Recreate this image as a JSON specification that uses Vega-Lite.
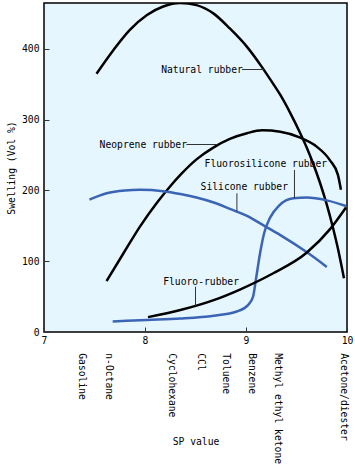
{
  "$schema": "https://vega.github.io/schema/vega-lite/v6.json",
  "width": 303,
  "height": 329,
  "autosize": {"type": "none"},
  "padding": {"left": 44, "top": 3, "right": 8, "bottom": 142},
  "background": "white",
  "config": {
    "font": "DejaVu Sans Mono",
    "view": {"fill": "#E6F6FF", "stroke": "black", "strokeWidth": 1.5},
    "axis": {"labelFont": "DejaVu Sans Mono", "titleFont": "DejaVu Sans Mono", "labelFontSize": 9.7, "titleFontSize": 9.7, "titleFontWeight": "normal", "labelColor": "black", "titleColor": "black", "domain": false, "grid": false, "tickColor": "#333", "tickSize": -5, "tickWidth": 1, "labelOverlap": false}
  },
  "datasets": {
    "curves": [
      {"rubber": "Natural rubber", "sp": 7.52, "swell": 365},
      {"rubber": "Natural rubber", "sp": 7.69, "swell": 399},
      {"rubber": "Natural rubber", "sp": 7.85, "swell": 427},
      {"rubber": "Natural rubber", "sp": 8.02, "swell": 448},
      {"rubber": "Natural rubber", "sp": 8.18, "swell": 460},
      {"rubber": "Natural rubber", "sp": 8.35, "swell": 465},
      {"rubber": "Natural rubber", "sp": 8.51, "swell": 462},
      {"rubber": "Natural rubber", "sp": 8.68, "swell": 450},
      {"rubber": "Natural rubber", "sp": 8.84, "swell": 429},
      {"rubber": "Natural rubber", "sp": 9.01, "swell": 403},
      {"rubber": "Natural rubber", "sp": 9.16, "swell": 374},
      {"rubber": "Natural rubber", "sp": 9.24, "swell": 357},
      {"rubber": "Natural rubber", "sp": 9.34, "swell": 335},
      {"rubber": "Natural rubber", "sp": 9.44, "swell": 309},
      {"rubber": "Natural rubber", "sp": 9.53, "swell": 283},
      {"rubber": "Natural rubber", "sp": 9.60, "swell": 261},
      {"rubber": "Natural rubber", "sp": 9.67, "swell": 236},
      {"rubber": "Natural rubber", "sp": 9.73, "swell": 212},
      {"rubber": "Natural rubber", "sp": 9.80, "swell": 180},
      {"rubber": "Natural rubber", "sp": 9.86, "swell": 148},
      {"rubber": "Natural rubber", "sp": 9.91, "swell": 118},
      {"rubber": "Natural rubber", "sp": 9.97, "swell": 76},
      {"rubber": "Neoprene rubber", "sp": 7.62, "swell": 72},
      {"rubber": "Neoprene rubber", "sp": 7.79, "swell": 112},
      {"rubber": "Neoprene rubber", "sp": 7.95, "swell": 149},
      {"rubber": "Neoprene rubber", "sp": 8.12, "swell": 183},
      {"rubber": "Neoprene rubber", "sp": 8.25, "swell": 206},
      {"rubber": "Neoprene rubber", "sp": 8.35, "swell": 222},
      {"rubber": "Neoprene rubber", "sp": 8.51, "swell": 244},
      {"rubber": "Neoprene rubber", "sp": 8.68, "swell": 261},
      {"rubber": "Neoprene rubber", "sp": 8.84, "swell": 273},
      {"rubber": "Neoprene rubber", "sp": 9.01, "swell": 281},
      {"rubber": "Neoprene rubber", "sp": 9.16, "swell": 285},
      {"rubber": "Neoprene rubber", "sp": 9.34, "swell": 283},
      {"rubber": "Neoprene rubber", "sp": 9.53, "swell": 275},
      {"rubber": "Neoprene rubber", "sp": 9.70, "swell": 262},
      {"rubber": "Neoprene rubber", "sp": 9.83, "swell": 243},
      {"rubber": "Neoprene rubber", "sp": 9.91, "swell": 222},
      {"rubber": "Neoprene rubber", "sp": 9.94, "swell": 201},
      {"rubber": "Silicone rubber", "sp": 7.45, "swell": 187},
      {"rubber": "Silicone rubber", "sp": 7.62, "swell": 196},
      {"rubber": "Silicone rubber", "sp": 7.80, "swell": 200},
      {"rubber": "Silicone rubber", "sp": 7.95, "swell": 201},
      {"rubber": "Silicone rubber", "sp": 8.18, "swell": 199},
      {"rubber": "Silicone rubber", "sp": 8.35, "swell": 195},
      {"rubber": "Silicone rubber", "sp": 8.51, "swell": 190},
      {"rubber": "Silicone rubber", "sp": 8.68, "swell": 183},
      {"rubber": "Silicone rubber", "sp": 8.84, "swell": 174},
      {"rubber": "Silicone rubber", "sp": 9.01, "swell": 164},
      {"rubber": "Silicone rubber", "sp": 9.17, "swell": 151},
      {"rubber": "Silicone rubber", "sp": 9.34, "swell": 137},
      {"rubber": "Silicone rubber", "sp": 9.60, "swell": 113},
      {"rubber": "Silicone rubber", "sp": 9.80, "swell": 92},
      {"rubber": "Fluorosilicone rubber", "sp": 7.68, "swell": 15},
      {"rubber": "Fluorosilicone rubber", "sp": 8.02, "swell": 17},
      {"rubber": "Fluorosilicone rubber", "sp": 8.35, "swell": 19},
      {"rubber": "Fluorosilicone rubber", "sp": 8.68, "swell": 23},
      {"rubber": "Fluorosilicone rubber", "sp": 8.91, "swell": 29},
      {"rubber": "Fluorosilicone rubber", "sp": 9.02, "swell": 38},
      {"rubber": "Fluorosilicone rubber", "sp": 9.07, "swell": 50},
      {"rubber": "Fluorosilicone rubber", "sp": 9.10, "swell": 76},
      {"rubber": "Fluorosilicone rubber", "sp": 9.14, "swell": 112},
      {"rubber": "Fluorosilicone rubber", "sp": 9.18, "swell": 140},
      {"rubber": "Fluorosilicone rubber", "sp": 9.24, "swell": 162},
      {"rubber": "Fluorosilicone rubber", "sp": 9.33, "swell": 179},
      {"rubber": "Fluorosilicone rubber", "sp": 9.47, "swell": 189},
      {"rubber": "Fluorosilicone rubber", "sp": 9.60, "swell": 190},
      {"rubber": "Fluorosilicone rubber", "sp": 9.80, "swell": 186},
      {"rubber": "Fluorosilicone rubber", "sp": 9.99, "swell": 178},
      {"rubber": "Fluoro-rubber", "sp": 8.03, "swell": 21},
      {"rubber": "Fluoro-rubber", "sp": 8.35, "swell": 31},
      {"rubber": "Fluoro-rubber", "sp": 8.68, "swell": 45},
      {"rubber": "Fluoro-rubber", "sp": 8.94, "swell": 60},
      {"rubber": "Fluoro-rubber", "sp": 9.27, "swell": 83},
      {"rubber": "Fluoro-rubber", "sp": 9.60, "swell": 112},
      {"rubber": "Fluoro-rubber", "sp": 9.83, "swell": 145},
      {"rubber": "Fluoro-rubber", "sp": 9.99, "swell": 176}
    ],
    "labels": [
      {"label": "Natural rubber", "sp": 8.16, "swell": 371, "lx": 8.96, "lx2": 9.18, "ly": 371, "ly2": 371},
      {"label": "Neoprene rubber", "sp": 7.55, "swell": 265, "lx": 8.41, "lx2": 8.71, "ly": 265, "ly2": 265},
      {"label": "Fluorosilicone rubber", "sp": 8.59, "swell": 238, "lx": 9.48, "lx2": 9.48, "ly": 229, "ly2": 189},
      {"label": "Silicone rubber", "sp": 8.55, "swell": 205, "lx": 8.91, "lx2": 8.91, "ly": 196, "ly2": 171},
      {"label": "Fluoro-rubber", "sp": 8.18, "swell": 71, "lx": 8.50, "lx2": 8.50, "ly": 64, "ly2": 37}
    ],
    "solvents": [
      {"solvent": "Gasoline", "sp": 7.38},
      {"solvent": "n-Octane", "sp": 7.64},
      {"solvent": "Cyclohexane", "sp": 8.27},
      {"solvent": "CCl", "sp": 8.55},
      {"solvent": "Toluene", "sp": 8.8},
      {"solvent": "Benzene", "sp": 9.06},
      {"solvent": "Methyl ethyl ketone", "sp": 9.32},
      {"solvent": "Acetone/diester", "sp": 9.97}
    ]
  },
  "layer": [
    {
      "data": {"name": "curves"},
      "mark": {"type": "line", "interpolate": "monotone", "strokeWidth": 2.5, "clip": true},
      "encoding": {
        "x": {"field": "sp", "type": "quantitative", "scale": {"domain": [7, 10], "nice": false, "zero": false}, "axis": {"values": [7, 8, 9, 10], "format": "d", "title": "SP value", "titlePadding": 92, "labelPadding": 8, "labelFlush": false}},
        "y": {"field": "swell", "type": "quantitative", "scale": {"domain": [0, 465], "nice": false}, "axis": {"values": [0, 100, 200, 300, 400], "format": "d", "title": "Swelling (Vol %)", "titlePadding": 5, "labelPadding": 10, "labelFlush": false}},
        "detail": {"field": "rubber"},
        "color": {"field": "rubber", "type": "nominal", "legend": null, "scale": {"domain": ["Natural rubber", "Neoprene rubber", "Silicone rubber", "Fluorosilicone rubber", "Fluoro-rubber"], "range": ["#000000", "#000000", "#3B64B5", "#3B64B5", "#000000"]}}
      }
    },
    {
      "data": {"name": "labels"},
      "mark": {"type": "rule", "color": "#333", "strokeWidth": 1},
      "encoding": {
        "x": {"field": "lx", "type": "quantitative"},
        "x2": {"field": "lx2"},
        "y": {"field": "ly", "type": "quantitative"},
        "y2": {"field": "ly2"}
      }
    },
    {
      "data": {"name": "labels"},
      "mark": {"type": "text", "align": "left", "baseline": "middle", "fontSize": 9.7, "font": "DejaVu Sans Mono", "color": "black"},
      "encoding": {
        "x": {"field": "sp", "type": "quantitative"},
        "y": {"field": "swell", "type": "quantitative"},
        "text": {"field": "label"}
      }
    },
    {
      "data": {"name": "solvents"},
      "mark": {"type": "text", "angle": 90, "align": "left", "baseline": "middle", "fontSize": 9.7, "font": "DejaVu Sans Mono", "color": "black"},
      "encoding": {
        "x": {"field": "sp", "type": "quantitative"},
        "y": {"datum": -30},
        "text": {"field": "solvent"}
      }
    }
  ]
}
